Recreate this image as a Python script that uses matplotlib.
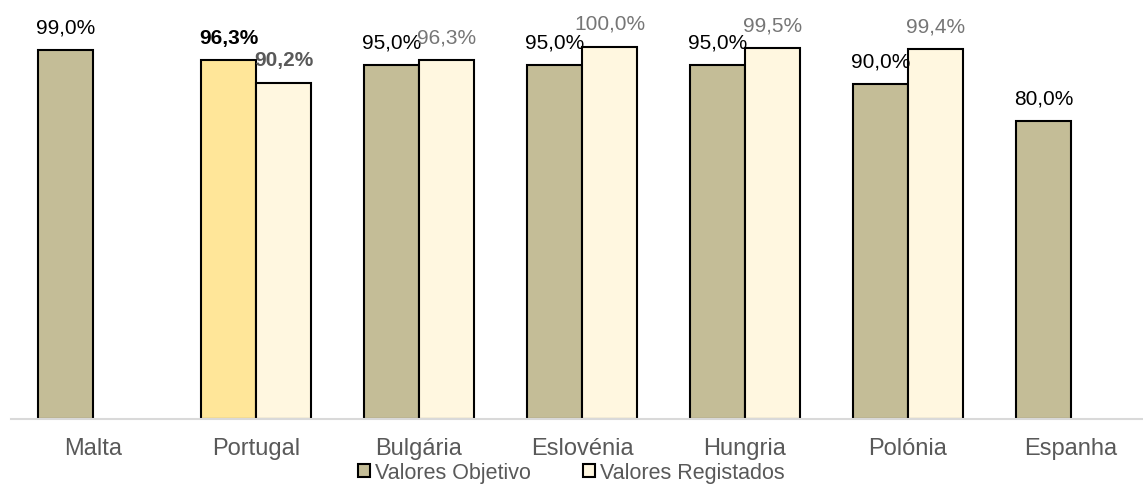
import matplotlib
matplotlib.use("Agg")
import matplotlib.pyplot as plt
from matplotlib.patches import Patch
import numpy as np

plt.rcParams['font.family'] = ['Liberation Sans', 'DejaVu Sans']

# Dados (percentagens)
paises = ["Malta", "Portugal", "Bulgária", "Eslovénia", "Hungria", "Polónia", "Espanha"]
objetivo = [99.0, 96.3, 95.0, 95.0, 95.0, 90.0, 80.0]
registados = [np.nan, 90.2, 96.3, 100.0, 99.5, 99.4, np.nan]

cor_obj = "#C4BD97"
cor_reg = "#FFF7E0"
cor_pt = "#FFE699"
cinza = "#595959"

W, H = 1143, 484
fig = plt.figure(figsize=(W / 100, H / 100), dpi=100)
base = 419
ax = fig.add_axes([11 / W, (H - base) / H, (W - 11) / W, base / H])

x = np.arange(len(paises))
larg = 0.337
obj = np.array(objetivo) / 100
reg = np.array(registados) / 100

cores_obj = [cor_pt if p == "Portugal" else cor_obj for p in paises]
b1 = ax.bar(x - larg / 2, obj, larg, color=cores_obj, edgecolor="black", linewidth=1.5)
b2 = ax.bar(x + larg / 2, reg, larg, color=cor_reg, edgecolor="black", linewidth=1.5)

def fmt(v):
    return f"{v:.1f}%".replace(".", ",")

for i, p in enumerate(paises):
    peso = "bold" if p == "Portugal" else "normal"
    ax.annotate(fmt(objetivo[i]), (x[i] - larg / 2, obj[i]), xytext=(0, 12),
                textcoords="offset points", ha="center", va="baseline",
                fontsize=15, color="black", fontweight=peso)
    if not np.isnan(registados[i]):
        ax.annotate(fmt(registados[i]), (x[i] + larg / 2, reg[i]), xytext=(0, 12),
                    textcoords="offset points", ha="center", va="baseline",
                    fontsize=15, color="#767676" if peso == "normal" else cinza,
                    fontweight=peso)

ax.set_xlim(-0.503, (W - 93) / 163)
ax.set_ylim(0, base / 372.5)
ax.set_xticks(x)
ax.set_xticklabels(paises, fontsize=17, color=cinza)
ax.tick_params(axis="x", length=0, pad=14)
ax.set_yticks([])
for s in ["top", "right", "left"]:
    ax.spines[s].set_visible(False)
ax.spines["bottom"].set_color("#D9D9D9")
ax.spines["bottom"].set_linewidth(1.5)

handles = [Patch(facecolor=cor_obj, edgecolor="black", linewidth=1.5, label="Valores Objetivo"),
           Patch(facecolor=cor_reg, edgecolor="black", linewidth=1.5, label="Valores Registados")]
fig.legend(handles=handles, loc="center", bbox_to_anchor=(0.5, 1 - 473 / H), ncol=2,
           frameon=False, fontsize=15.5, labelcolor=cinza, handlelength=0.55,
           handleheight=0.55, handletextpad=0.25, columnspacing=2.4,
           borderpad=0, borderaxespad=0)

fig.savefig("out.png", dpi=100)
